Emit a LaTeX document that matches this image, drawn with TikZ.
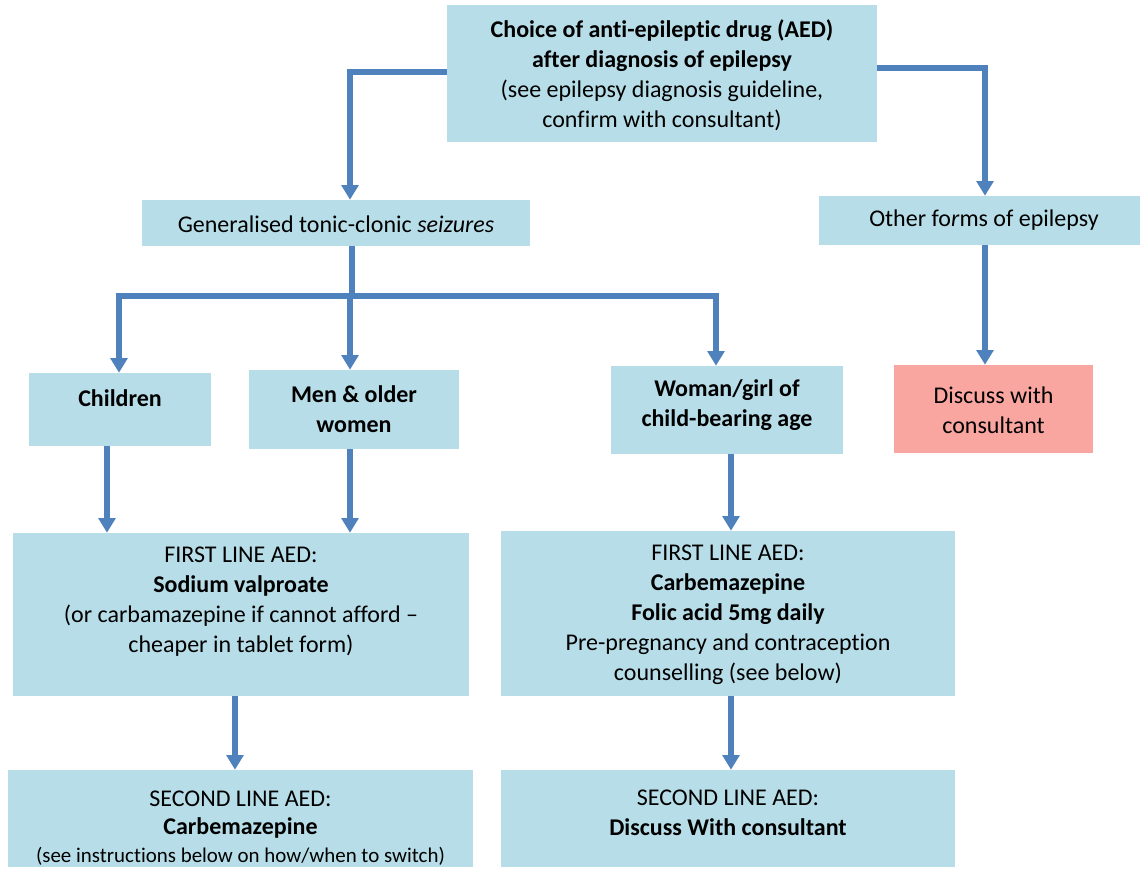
\documentclass[tikz,border=0pt]{standalone}
\usepackage{fontspec}
\setmainfont[Ligatures=NoCommon]{Carlito}
\usetikzlibrary{arrows.meta}
\definecolor{aedblue}{rgb}{0.718, 0.871, 0.910}
\definecolor{aedpink}{rgb}{0.980, 0.651, 0.627}
\definecolor{aedarrow}{rgb}{0.310, 0.506, 0.741}
\tikzset{box/.style={fill=aedblue, inner sep=0pt}}
\tikzset{txt/.style={align=center, inner sep=0pt, font=\fontsize{18}{22.5}\selectfont}}
\tikzset{arr/.style={line width=3.8pt, color=aedarrow, -{Triangle[width=12.5pt,length=11pt]}}}
\tikzset{seg/.style={line width=3.8pt, color=aedarrow}}

\begin{document}
\begin{tikzpicture}[x=0.75pt, y=-0.75pt]
        \useasboundingbox (0,0) rectangle (1141,869);

        % boxes
        \node[box, minimum width=322.5pt, minimum height=102.75pt] (top) at (662,73.5) {};
        \node[box, minimum width=291pt, minimum height=34.5pt] (gts) at (336,223) {};
        \node[box, minimum width=240.75pt, minimum height=36.75pt] (other) at (979.5,220.5) {};
        \node[box, minimum width=136.5pt, minimum height=54.75pt] (child) at (120,409.5) {};
        \node[box, minimum width=157.5pt, minimum height=59.25pt] (men) at (354,409.5) {};
        \node[box, minimum width=174pt, minimum height=66pt] (woman) at (727,410) {};
        \node[box, fill=aedpink, minimum width=149.25pt, minimum height=66pt] (discuss) at (993.5,409) {};
        \node[box, minimum width=342pt, minimum height=122.25pt] (firstL) at (241,614.5) {};
        \node[box, minimum width=340.5pt, minimum height=123.75pt] (firstR) at (728,613.5) {};
        \node[box, minimum width=348.75pt, minimum height=72.75pt] (secondL) at (240.5,818.5) {};
        \node[box, minimum width=340.5pt, minimum height=72.75pt] (secondR) at (728,818.5) {};

        % texts
        \node[txt] (topT) at (662,75) {\textbf{Choice of anti-epileptic drug (AED)}\\\textbf{after diagnosis of epilepsy}\\(see epilepsy diagnosis guideline,\\confirm with consultant)};
        \node[txt] (gtsT) at (336,224) {Generalised tonic-clonic \textit{seizures}};
        \node[txt] (otherT) at (984,220) {Other fo\textit{r}ms of epilepsy};
        \node[txt] (childT) at (120,398) {\textbf{Children}};
        \node[txt] (menT) at (354,409) {\textbf{Men \& older}\\\textbf{women}};
        \node[txt] (womanT) at (727,405) {\textbf{Woman/girl of}\\\textbf{child-bearing age}};
        \node[txt] (discussT) at (993.5,410) {Discuss with\\consultant};
        \node[txt] (firstLT) at (241,602) {FIRST LINE AED:\\\textbf{Sodium valproate}\\(or carbamazepine if cannot afford --\\cheaper in tablet form)};
        \node[txt] (firstRT) at (728,615) {FIRST LINE AED:\\\textbf{Carbemazepine}\\\textbf{Folic acid 5mg daily}\\Pre-pregnancy and contraception\\counselling (see below)};
        \node[txt, font=\fontsize{18}{21}\selectfont] (secondLT) at (240.5,828) {SECOND LINE AED:\\\textbf{Carbemazepine}\\{\fontsize{15.7}{21}\selectfont(see instructions below on how/when to switch)}};
        \node[txt] (secondRT) at (728,812.5) {SECOND LINE AED:\\\textbf{Discuss With consultant}};

        % connectors
        \coordinate (jl) at (350,72);
        \coordinate (jr) at (985,68);
        \coordinate (jm) at (352,296);
        \draw[arr] (top.west |- jl) -- (jl) -- (gts.north -| jl);
        \draw[arr] (top.east |- jr) -- (jr) -- (other.north -| jr);
        \draw[seg] (gts.south -| jm) -- (jm);
        \draw[arr] (jm) -| (child.north -| 119,0);
        \draw[arr] (jm -| 350,0) -- (men.north -| 350,0);
        \draw[arr] (jm) -| (woman.north -| 716,0);
        \draw[arr] (other.south -| jr) -- (discuss.north -| jr);
        \draw[arr] (child.south -| 107,0) -- (firstL.north -| 107,0);
        \draw[arr] (men.south -| 350,0) -- (firstL.north -| 350,0);
        \draw[arr] (woman.south -| 731,0) -- (firstR.north -| 731,0);
        \draw[arr] (firstL.south -| 235,0) -- (secondL.north -| 235,0);
        \draw[arr] (firstR.south -| 731,0) -- (secondR.north -| 731,0);
    \end{tikzpicture}
\end{document}
